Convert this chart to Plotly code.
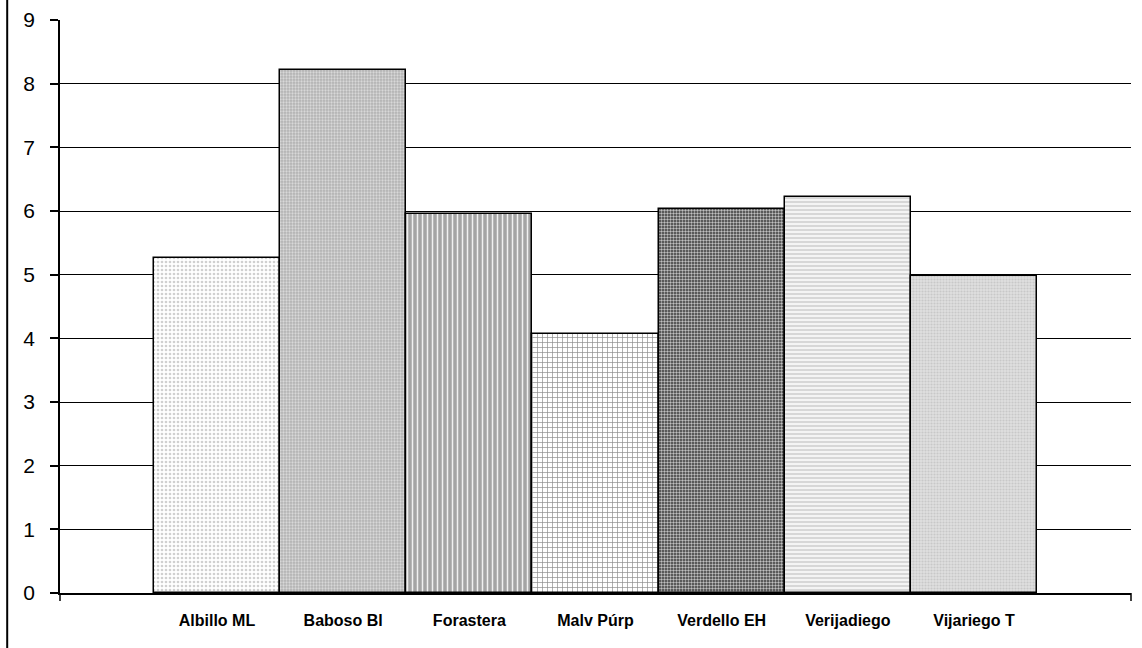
import plotly.graph_objects as go

varieties = ["Albillo ML", "Baboso Bl", "Forastera", "Malv Púrp",
             "Verdello EH", "Verijadiego", "Vijariego T"]
values = [5.26, 8.21, 5.95, 4.07, 6.03, 6.22, 4.98]
y_ticks = [0, 1, 2, 3, 4, 5, 6, 7, 8, 9]

# Monochrome fills: a base colour with a fine pattern laid on top
base_color = ["#ffffff", "#b2b2b2", "#a4a4a4", "#ffffff", "#383838", "#f4f4f4", "#e0e0e0"]
pattern_shape = [".", ".", "|", "+", ".", "-", "."]
pattern_fg = ["#d0d0d0", "#d8d8d8", "#f0f0f0", "#8a8a8a", "#c0c0c0", "#c4c4c4", "#c8c8c8"]
pattern_size = [4, 3, 5, 5, 3, 4, 3]
pattern_solid = [0.35, 0.45, 0.3, 0.25, 0.5, 0.3, 0.4]

fig = go.Figure()
for i, name in enumerate(varieties):
    fig.add_trace(go.Bar(
        x=[name],
        y=[values[i]],
        name=name,
        width=1.0,
        marker=dict(
            color=base_color[i],
            line=dict(color="black", width=1.5),
            pattern=dict(
                shape=pattern_shape[i],
                fgcolor=pattern_fg[i],
                bgcolor=base_color[i],
                fgopacity=1,
                size=pattern_size[i],
                solidity=pattern_solid[i],
                fillmode="replace",
            ),
        ),
        hoverinfo="x+y",
    ))

fig.update_layout(
    width=1142,
    height=648,
    margin=dict(l=60, r=11, t=20, b=55),
    paper_bgcolor="white",
    plot_bgcolor="white",
    showlegend=False,
    barmode="overlay",
    bargap=0,
    font=dict(family="Liberation Sans, Arial, sans-serif", color="black"),
    xaxis=dict(
        range=[-1.244, 7.244],
        categoryorder="array",
        categoryarray=varieties,
        automargin=False,
        showgrid=False,
        showline=True,
        linecolor="black",
        linewidth=1.5,
        ticks="",
        ticklabelstandoff=12,
        tickfont=dict(size=16, family="Liberation Sans, Arial, sans-serif", weight="bold"),
        zeroline=False,
    ),
    yaxis=dict(
        range=[0, 9],
        tickvals=y_ticks,
        automargin=False,
        showgrid=True,
        gridcolor="black",
        gridwidth=1,
        showline=True,
        linecolor="black",
        linewidth=1.5,
        ticks="outside",
        ticklen=8,
        tickcolor="black",
        tickwidth=1.5,
        tickfont=dict(size=21, family="Liberation Sans, Arial, sans-serif"),
        ticklabelstandoff=11,
        zeroline=False,
    ),
    shapes=[
        # outer chart frame on the left
        dict(type="line", xref="paper", yref="paper", x0=-0.0493, x1=-0.0493,
             y0=-0.1, y1=1.1, line=dict(color="black", width=2)),
        # end ticks below the category axis
        dict(type="line", xref="paper", yref="paper", x0=0, x1=0,
             y0=0, y1=-0.014, line=dict(color="black", width=1.5)),
        dict(type="line", xref="paper", yref="paper", x0=1, x1=1,
             y0=0, y1=-0.014, line=dict(color="black", width=1.5)),
    ],
)

fig.write_html("out.html")
